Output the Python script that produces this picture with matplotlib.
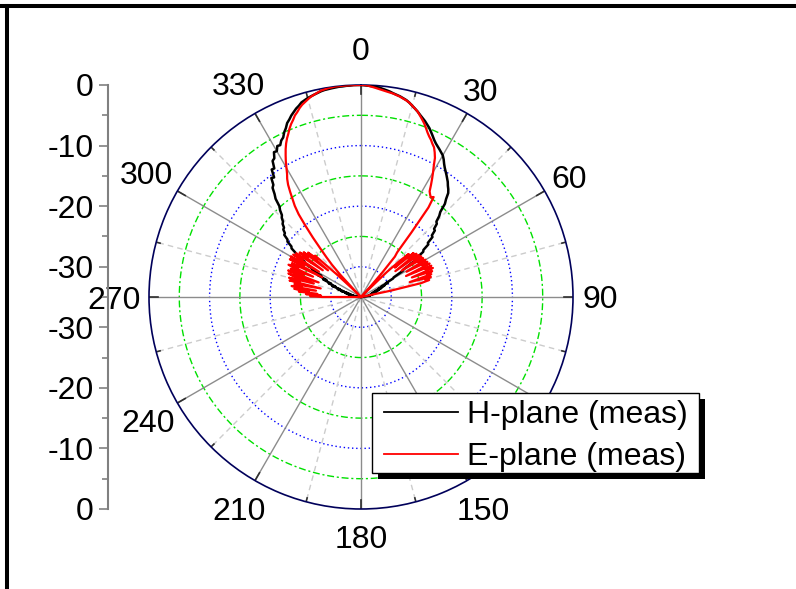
import numpy as np
import matplotlib
matplotlib.use("Agg")
import matplotlib.pyplot as plt
from matplotlib.lines import Line2D
from matplotlib.patches import Rectangle

plt.rcParams['font.family'] = 'Liberation Sans'

# Messwinkel in Grad (1-Grad-Schritte), Pegel in dB (normiert)
theta_deg = np.arange(-92, 93)

h_plane_db = [
    -36.0, -36.0, -35.4, -35.0, -34.8, -34.4, -34.6, -34.1, -34.3, -33.8,   # -92..-83
    -33.9, -33.4, -33.7, -33.1, -33.4, -32.6, -33.1, -32.3, -32.8, -31.6,   # -82..-73
    -32.0, -30.9, -31.3, -29.9, -30.5, -29.2, -29.6, -28.1, -28.7, -27.0,   # -72..-63
    -27.6, -25.8, -26.2, -24.2, -24.0, -22.2, -22.0, -21.0, -20.8, -19.8,   # -62..-53
    -19.6, -18.7, -18.6, -18.0, -17.9, -17.3, -17.1, -16.5, -16.2, -15.4,   # -52..-43
    -14.9, -13.5, -12.8, -11.8, -11.5, -10.4, -10.6, -9.3, -9.4, -8.2,      # -42..-33
    -8.0, -7.1, -7.2, -6.5, -6.6, -6.0, -5.7, -5.0, -4.5, -3.8,             # -32..-23
    -3.4, -2.9, -2.5, -2.1, -1.8, -1.4, -1.2, -1.0, -0.85, -0.7,            # -22..-13
    -0.55, -0.4, -0.3, -0.25, -0.2, -0.15, -0.1, -0.1, -0.05, -0.05,        # -12..-3
    0.0, 0.0, 0.0, -0.05, -0.1, -0.15, -0.2, -0.3, -0.45, -0.6,             # -2..7
    -0.75, -0.95, -1.1, -1.25, -1.45, -1.65, -1.95, -2.3, -2.65, -3.0,      # 8..17
    -3.4, -3.75, -4.1, -4.5, -4.9, -5.4, -5.9, -6.4, -6.8, -7.1,            # 18..27
    -7.4, -7.7, -8.0, -8.5, -9.1, -9.6, -10.0, -10.4, -10.8, -11.2,         # 28..37
    -11.7, -12.1, -12.6, -13.6, -14.3, -15.8, -16.4, -17.4, -17.6, -18.5,   # 38..47
    -18.6, -19.5, -19.6, -20.8, -20.9, -22.1, -22.3, -23.9, -24.4, -26.6,   # 48..57
    -26.9, -28.7, -28.9, -30.3, -30.0, -31.2, -30.7, -31.8, -31.3, -32.3,   # 58..67
    -31.8, -32.7, -32.2, -33.0, -32.4, -33.2, -32.6, -33.3, -32.9, -33.5,   # 68..77
    -33.2, -33.6, -33.5, -33.8, -34.0, -34.2, -34.4, -34.6, -34.8, -35.0,   # 78..87
    -35.2, -35.4, -35.6, -36.0, -36.0,                                      # 88..92
]

e_plane_db = [
    -36.0, -36.0, -28.6, -26.6, -28.4, -25.9, -27.8, -24.7, -26.3, -23.9,   # -92..-83
    -27.5, -23.4, -25.1, -23.8, -28.2, -22.9, -24.6, -22.7, -26.9, -23.3,   # -82..-73
    -22.4, -27.6, -22.2, -24.8, -22.5, -26.4, -21.9, -23.6, -22.3, -27.8,   # -72..-63
    -21.7, -24.2, -21.6, -26.9, -21.8, -23.5, -22.1, -27.3, -22.5, -24.0,   # -62..-53
    -23.0, -28.0, -23.6, -25.4, -24.8, -29.5, -33.0, -36.0, -33.5, -30.0,   # -52..-43
    -27.8, -26.3, -24.6, -22.4, -20.2, -17.9, -16.4, -15.3, -14.1, -12.9,   # -42..-33
    -12.0, -11.3, -10.4, -9.4, -8.5, -7.6, -6.8, -6.1, -5.5, -4.8,          # -32..-23
    -4.2, -3.7, -3.1, -2.7, -2.2, -1.8, -1.5, -1.2, -0.9, -0.7,             # -22..-13
    -0.5, -0.3, -0.2, -0.1, -0.05, 0.0, 0.0, 0.0, 0.0, 0.0,                 # -12..-3
    0.0, 0.0, 0.0, 0.0, -0.1, -0.25, -0.4, -0.55, -0.7, -0.8,               # -2..7
    -0.9, -1.0, -1.15, -1.3, -1.5, -1.7, -1.95, -2.3, -2.65, -3.0,          # 8..17
    -3.5, -4.0, -4.5, -5.1, -5.7, -6.2, -6.6, -7.1, -7.5, -8.2,             # 18..27
    -9.0, -10.2, -11.2, -12.2, -13.2, -14.2, -14.6, -14.9, -14.6, -16.5,    # 28..37
    -21.5, -25.5, -26.3, -29.5, -33.0, -36.0, -36.0, -33.5, -29.0, -26.2,   # 38..47
    -24.4, -27.6, -23.7, -24.9, -23.4, -27.9, -23.2, -24.3, -23.0, -27.0,   # 48..57
    -22.9, -23.9, -22.7, -26.4, -22.6, -23.6, -22.4, -26.8, -22.3, -23.4,   # 58..67
    -22.2, -26.0, -22.5, -23.5, -22.8, -26.6, -23.0, -24.0, -23.4, -24.8,   # 68..77
    -30.0, -36.0, -36.0, -36.0, -36.0, -36.0, -36.0, -36.0, -36.0, -36.0,   # 78..87
    -36.0, -36.0, -36.0, -36.0, -36.0,                                      # 88..92
]

series_labels = ['H-plane (meas)', 'E-plane (meas)']
angle_labels = [0, 30, 60, 90, 150, 180, 210, 240, 270, 300, 330]
scale_ticks = [0, 10, 20, 30, 40, 50, 60, 70]
scale_ticklabels = ['0', '-10', '-20', '-30', '-30', '-20', '-10', '0']

R_MIN, R_MAX = -35, 0
W, H = 796, 589
cx, cy, rad = 361, 297, 212      # Mittelpunkt und Radius in Pixel
FS = 23

# Abstand der Winkelbeschriftung vom Mittelpunkt (Pixel)
label_dist = {0: 249, 30: 240, 60: 240, 90: 239, 150: 244, 180: 239,
              210: 244, 240: 246, 270: 247, 300: 248, 330: 246}

fig = plt.figure(figsize=(W / 100, H / 100), dpi=100)

# Polardiagramm
ax = fig.add_axes([(cx - rad) / W, (H - cy - rad) / H, 2 * rad / W, 2 * rad / H],
                  projection='polar')
ax.set_theta_zero_location('N')
ax.set_theta_direction(-1)
ax.set_ylim(R_MIN, R_MAX)
ax.set_xticks([])
ax.set_yticks([])
ax.grid(False)
ax.spines['polar'].set_color('#00005a')
ax.spines['polar'].set_linewidth(1.2)

# Kreise (blau gepunktet / gruen strichpunktiert)
full = np.linspace(0, 2 * np.pi, 721)
for r in (-30, -20, -10):
    ax.plot(full, np.full_like(full, r), color='#0000ff', lw=1, ls=(0, (1, 2)), zorder=1)
for r in (-25, -15, -5):
    ax.plot(full, np.full_like(full, r), color='#00e000', lw=1, ls=(0, (5, 2, 1.5, 2)), zorder=1)

# Speichen alle 15 Grad, Teilstriche am Rand
tick_major = 9 / rad * (R_MAX - R_MIN)
tick_minor = 4 / rad * (R_MAX - R_MIN)
for a in range(0, 360, 15):
    t = np.deg2rad(a)
    if a % 30 == 0:
        ax.plot([t, t], [R_MIN, R_MAX], color='#8c8c8c', lw=1, zorder=1)
        ax.plot([t, t], [R_MAX - tick_major, R_MAX], color='#303030', lw=1.2, zorder=1)
    else:
        ax.plot([t, t], [R_MIN, R_MAX], color='#cccccc', lw=1, ls=(0, (4, 3)), zorder=1)
        ax.plot([t, t], [R_MAX - tick_minor, R_MAX], color='#303030', lw=1.2, zorder=1)

th = np.deg2rad(theta_deg)
ax.plot(th, np.clip(h_plane_db, R_MIN, R_MAX), color='black', lw=1.8, zorder=3)
ax.plot(th, np.clip(e_plane_db, R_MIN, R_MAX), color='#ff0000', lw=1.6, zorder=4)

# Winkelbeschriftung
for a in angle_labels:
    r = R_MIN + label_dist[a] / rad * (R_MAX - R_MIN)
    ax.text(np.deg2rad(a), r, str(a), ha='center', va='center_baseline',
            fontsize=FS, clip_on=False)

# linke Pegelachse
ax2 = fig.add_axes([108 / W, (H - 509) / H, 0.001, 424 / H])
ax2.set_ylim(0, 70)
ax2.set_xlim(0, 1)
for s in ('top', 'right', 'bottom'):
    ax2.spines[s].set_visible(False)
ax2.spines['left'].set_color('#808080')
ax2.spines['left'].set_linewidth(1.5)
ax2.patch.set_visible(False)
ax2.set_xticks([])
ax2.set_yticks(scale_ticks)
ax2.set_yticklabels(scale_ticklabels)
ax2.set_yticks(np.arange(5, 70, 10), minor=True)
ax2.tick_params(axis='y', which='major', length=6.5, width=1.2, color='#808080',
                labelsize=FS, pad=4)
ax2.tick_params(axis='y', which='minor', length=4, width=1.2, color='#808080')

# Legende mit Schatten
fig.add_artist(Rectangle((378 / W, 1 - 479 / H), 327 / W, 80 / H, transform=fig.transFigure,
                         facecolor='black', edgecolor='none', zorder=3))
fig.add_artist(Rectangle((372 / W, 1 - 473 / H), 327 / W, 80 / H, transform=fig.transFigure,
                         facecolor='white', edgecolor='black', lw=1, zorder=4))
handles = [Line2D([], [], color='black', lw=1.3), Line2D([], [], color='#ff0000', lw=1.3)]
fig.legend(handles, series_labels, loc='upper left', bbox_to_anchor=(384 / W, 1 - 400 / H),
           frameon=False, borderpad=0, borderaxespad=0, handlelength=2.32,
           handletextpad=0.28, labelspacing=0.39, fontsize=FS)

# Rahmen oben und links
fig.add_artist(Line2D([0, 1], [1 - 6 / H, 1 - 6 / H], transform=fig.transFigure,
                      color='black', lw=2.9))
fig.add_artist(Line2D([7 / W, 7 / W], [0, 1 - 6 / H], transform=fig.transFigure,
                      color='black', lw=2.9))

fig.savefig('out.png', dpi=100)
